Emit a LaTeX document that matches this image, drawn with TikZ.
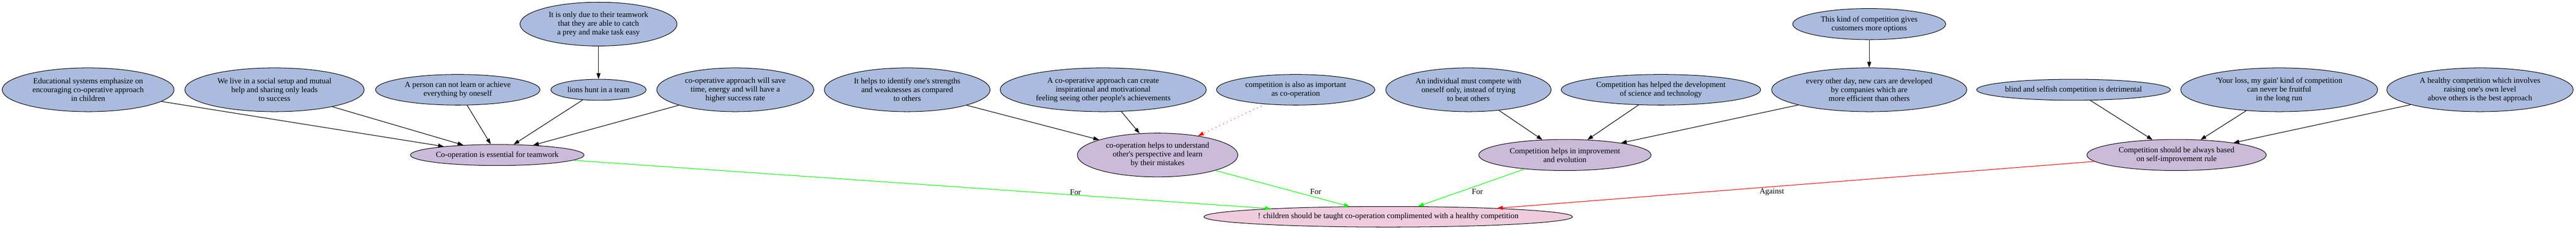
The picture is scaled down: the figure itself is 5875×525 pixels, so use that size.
\documentclass[tikz,border=0pt]{standalone}
\usepackage{fontspec}
\setmainfont{Liberation Serif}
\usetikzlibrary{shapes.geometric}
\usetikzlibrary{arrows.meta}
\definecolor{premisefill}{RGB}{170,187,221}
\definecolor{claimfill}{RGB}{203,187,219}
\definecolor{verdictfill}{RGB}{238,204,222}
\definecolor{forgreen}{RGB}{0,255,0}
\definecolor{againstred}{RGB}{255,0,0}
\tikzset{
	argnode/.style={ellipse, draw=black, line width=1.2pt, align=center, inner sep=0pt, font=\fontsize{18}{20}\selectfont},
	premise/.style={argnode, fill=premisefill},
	claim/.style={argnode, fill=claimfill},
	verdict/.style={argnode, fill=verdictfill},
	wh/.style 2 args={minimum width=#1pt, minimum height=#2pt},
	tip/.style={-{Triangle[length=13pt, width=9pt]}, line width=1.3pt},
	supports/.style={tip, draw=black},
	pro/.style={tip, draw=forgreen},
	con/.style={tip, draw=againstred},
	weak/.style={tip, draw=againstred, dash pattern=on 1.5pt off 8pt},
	lbl/.style={inner sep=0pt, font=\fontsize{18}{20}\selectfont}
}
\begin{document}
\begin{tikzpicture}[x=1pt, y=-1pt]
	\useasboundingbox (0,0) rectangle (5875,525);
	% top row
	\node[premise, wh={358}{100}] (teamwork) at (1365,55) {It is only due to their teamwork\\that they are able to catch\\a prey and make task easy};
	\node[premise, wh={349}{71}] (thiskind) at (4263,55) {This kind of competition gives\\customers more options};
	% premises
	\node[premise, wh={392}{100}] (educ) at (201,205) {Educational systems emphasize on\\encouraging co-operative approach\\in children};
	\node[premise, wh={409}{100}] (welive) at (626,205) {We live in a social setup and mutual\\help and sharing only leads\\to success};
	\node[premise, wh={375}{70}] (person) at (1044,205) {A person can not learn or achieve\\everything by oneself};
	\node[premise, wh={217}{48}] (lions) at (1365,205) {lions hunt in a team};
	\node[premise, wh={358}{100}] (savetime) at (1677,205) {co-operative approach will save\\time, energy and will have a\\higher success rate};
	\node[premise, wh={378}{100}] (strengths) at (2069,205) {It helps to identify one\textquotesingle s strengths\\and weaknesses as compared\\to others};
	\node[premise, wh={470}{100}] (inspire) at (2516,205) {A co-operative approach can create\\inspirational and motivational\\feeling seeing other people\textquotesingle s achievements};
	\node[premise, wh={361}{70}] (compalso) at (2955,205) {competition is also as important\\as co-operation};
	\node[premise, wh={377}{100}] (individual) at (3349,205) {An individual must compete with\\oneself only, instead of trying\\to beat others};
	\node[premise, wh={455}{70}] (scitech) at (3788,205) {Competition has helped the development\\of science and technology};
	\node[premise, wh={445}{100}] (cars) at (4263,205) {every other day, new cars are developed\\by companies which are\\more efficient than others};
	\node[premise, wh={440}{48}] (blind) at (4729,205) {blind and selfish competition is detrimental};
	\node[premise, wh={449}{100}] (yourloss) at (5198,205) {\textquotesingle Your loss, my gain\textquotesingle\ kind of competition\\can never be fruitful\\in the long run};
	\node[premise, wh={425}{100}] (healthy) at (5656,205) {A healthy competition which involves\\raising one\textquotesingle s own level\\above others is the best approach};
	% claims
	\node[claim, wh={396}{48}] (essential) at (1134,354) {Co-operation is essential for teamwork};
	\node[claim, wh={366}{100}] (perspective) at (2640,354) {co-operation helps to understand\\other\textquotesingle s perspective and learn\\by their mistakes};
	\node[claim, wh={393}{71}] (improve) at (3569,354) {Competition helps in improvement\\and evolution};
	\node[claim, wh={409}{71}] (selfimp) at (4964,354) {Competition should be always based\\on self-improvement rule};
	% conclusion
	\node[verdict, wh={809}{47}] (final) at (3166,495) {! children should be taught co-operation complimented with a healthy competition};

	\draw[supports] (teamwork) -- (lions);
	\draw[supports] (educ) -- (essential);
	\draw[supports] (welive) -- (essential);
	\draw[supports] (person) -- (essential);
	\draw[supports] (lions) -- (essential);
	\draw[supports] (savetime) -- (essential);
	\draw[supports] (strengths) -- (perspective);
	\draw[supports] (inspire) -- (perspective);
	\draw[weak] (compalso) -- (perspective);
	\draw[supports] (individual) -- (improve);
	\draw[supports] (scitech) -- (improve);
	\draw[supports] (cars) -- (improve);
	\draw[supports] (thiskind) -- (cars);
	\draw[supports] (blind) -- (selfimp);
	\draw[supports] (yourloss) -- (selfimp);
	\draw[supports] (healthy) -- (selfimp);

	\draw[pro] (essential) -- node[lbl, pos=0.72, above] {For} (final);
	\draw[pro] (perspective) -- node[lbl, pos=0.59, right=35pt] {For} (final);
	\draw[pro] (improve) -- node[lbl, pos=0.605, right=26pt] {For} (final);
	\draw[con] (selfimp) -- node[lbl, pos=0.54, below=3pt] {Against} (final);
\end{tikzpicture}
\end{document}
